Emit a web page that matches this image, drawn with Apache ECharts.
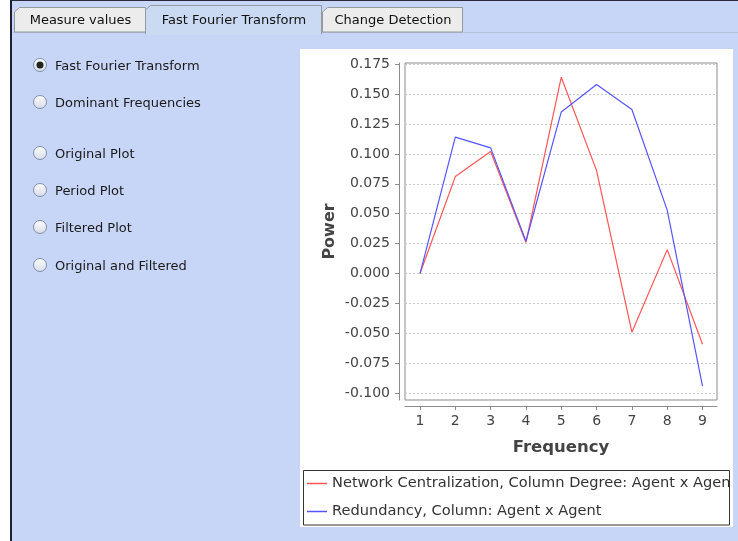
<!DOCTYPE html>
<html>
<head>
<meta charset="utf-8">
<script src="https://cdn.jsdelivr.net/npm/echarts@6/dist/echarts.min.js"></script>
<style>
html,body{margin:0;padding:0;background:#fff;}
#chart{width:738px;height:541px;}
</style>
</head>
<body>
<div id="chart"></div>
<script>
// ---- data ----
const frequencies = [1, 2, 3, 4, 5, 6, 7, 8, 9];
const centralization = [0.000, 0.081, 0.102, 0.026, 0.164, 0.086, -0.049, 0.020, -0.059];
const redundancy = [0.000, 0.114, 0.105, 0.027, 0.135, 0.158, 0.137, 0.053, -0.094];
const yTicks = [-0.100, -0.075, -0.050, -0.025, 0.000, 0.025, 0.050, 0.075, 0.100, 0.125, 0.150, 0.175];
const xTicks = [1, 2, 3, 4, 5, 6, 7, 8, 9];
const seriesNames = ['Network Centralization, Column Degree: Agent x Agent', 'Redundancy, Column: Agent x Agent'];
const tabNames = ['Measure values', 'Fast Fourier Transform', 'Change Detection'];
const radioNames = ['Fast Fourier Transform', 'Dominant Frequencies', 'Original Plot', 'Period Plot', 'Filtered Plot', 'Original and Filtered'];

const UI_FONT = '"DejaVu Sans", sans-serif';
const BG_BLUE = '#c7d6f7';

const chart = echarts.init(document.getElementById('chart'), null, {renderer: 'canvas'});

const graphics = [];
// background panel
graphics.push({type: 'rect', z: -10, shape: {x: 11, y: 1, width: 727, height: 540}, style: {fill: BG_BLUE}});
graphics.push({type: 'line', z: -9, shape: {x1: 10, y1: 0.5, x2: 738, y2: 0.5}, style: {stroke: '#2a2a3a', lineWidth: 1}});
graphics.push({type: 'line', z: -9, shape: {x1: 11, y1: 0, x2: 11, y2: 541}, style: {stroke: '#1c2030', lineWidth: 2}});
graphics.push({type: 'line', z: -9, shape: {x1: 12, y1: 32.5, x2: 738, y2: 32.5}, style: {stroke: '#b4c2dc', lineWidth: 1}});
// tabs
const tabs = [
  {x0: 14, x1: 145, top: 7, fill: '#ececec', sel: false},
  {x0: 145, x1: 321, top: 5, fill: '#cbdaf3', sel: true},
  {x0: 322, x1: 462, top: 7, fill: '#ececec', sel: false}
];
tabs.forEach((t, i) => {
  const bottom = t.sel ? 34 : 32;
  graphics.push({type: 'polygon', z: -8, shape: {points: [[t.x0 + 0.5, bottom], [t.x0 + 0.5, t.top + 5], [t.x0 + 5.5, t.top + 0.5], [t.x1 + 0.5, t.top + 0.5], [t.x1 + 0.5, bottom]]},
    style: {fill: t.fill, stroke: '#919b9c', lineWidth: 1}});
  if (t.sel) {
    graphics.push({type: 'rect', z: -7, shape: {x: t.x0 + 1, y: 31, width: t.x1 - t.x0 - 1, height: 4}, style: {fill: t.fill}});
  }
  graphics.push({type: 'text', z: -6, x: (t.x0 + t.x1) / 2 + 1, y: 21,
    style: {text: tabNames[i], font: '13px ' + UI_FONT, fill: '#111', align: 'center', verticalAlign: 'middle'}});
});
// radio buttons
const radioY = [65, 102, 153, 190, 227, 265];
radioNames.forEach((name, i) => {
  const y = radioY[i];
  graphics.push({type: 'circle', z: -6, shape: {cx: 40, cy: y, r: 6.5},
    style: {fill: new echarts.graphic.LinearGradient(0, 0, 0, 1, [{offset: 0, color: '#ffffff'}, {offset: 1, color: '#d6dbe6'}]), stroke: '#7f8fa8', lineWidth: 1}});
  if (i === 0) {
    graphics.push({type: 'circle', z: -5, shape: {cx: 40, cy: y, r: 3.5}, style: {fill: '#222'}});
  }
  graphics.push({type: 'text', z: -5, x: 55, y: y + 1.5,
    style: {text: name, font: '13px ' + UI_FONT, fill: '#1a1a1a', align: 'left', verticalAlign: 'middle'}});
});
// chart panel (white)
graphics.push({type: 'rect', z: -6, shape: {x: 300, y: 49, width: 433, height: 478}, style: {fill: '#ffffff'}});
// legend frame
graphics.push({type: 'rect', z: -5, shape: {x: 303.5, y: 470.5, width: 426, height: 54.5}, style: {fill: '#ffffff', stroke: '#333', lineWidth: 1}});

const toPairs = (vals) => frequencies.map((f, i) => [f, vals[i]]);

const option = {
  animation: false,
  backgroundColor: '#ffffff',
  graphic: {elements: graphics},
  grid: {left: 405, top: 63, right: 21, bottom: 141, show: true, backgroundColor: '#ffffff', borderColor: '#8c8c8c', borderWidth: 1, containLabel: false},
  legend: {
    orient: 'vertical', left: 307, top: 476, padding: 0, itemGap: 13,
    itemWidth: 20, itemHeight: 1.5, icon: 'rect',
    data: seriesNames,
    textStyle: {fontFamily: UI_FONT, fontSize: 14.6, color: '#333', width: 400, overflow: 'truncate', ellipsis: ''}
  },
  xAxis: {
    type: 'value', min: 0.575, max: 9.41, offset: 6,
    name: 'Frequency', nameLocation: 'middle', nameGap: 33,
    nameTextStyle: {fontFamily: UI_FONT, fontSize: 16.5, fontWeight: 'bold', color: '#444'},
    axisLine: {show: true, onZero: false, lineStyle: {color: '#8c8c8c', width: 1}},
    axisTick: {show: true, length: 4, lineStyle: {color: '#8c8c8c'}, customValues: xTicks},
    axisLabel: {customValues: xTicks, margin: 8, fontFamily: UI_FONT, fontSize: 14, color: '#444', formatter: v => String(v)},
    splitLine: {show: false}
  },
  yAxis: {
    type: 'value', min: -0.1056, max: 0.1759, offset: 6,
    name: 'Power', nameLocation: 'middle', nameGap: 61, nameRotate: 90,
    nameTextStyle: {fontFamily: UI_FONT, fontSize: 16, fontWeight: 'bold', color: '#444'},
    axisLine: {show: true, onZero: false, lineStyle: {color: '#8c8c8c', width: 1}},
    axisTick: {show: true, length: 4, lineStyle: {color: '#8c8c8c'}, customValues: yTicks},
    axisLabel: {customValues: yTicks, margin: 9, fontFamily: UI_FONT, fontSize: 14, color: '#444', formatter: v => Number(v).toFixed(3)},
    splitLine: {show: true, lineStyle: {color: '#c8c8c8', type: [2, 2], width: 1}}
  },
  series: [
    {name: seriesNames[0], type: 'line', data: toPairs(centralization), showSymbol: false, symbol: 'none',
      lineStyle: {color: '#ff5555', width: 1.2}, itemStyle: {color: '#ff5555'}},
    {name: seriesNames[1], type: 'line', data: toPairs(redundancy), showSymbol: false, symbol: 'none',
      lineStyle: {color: '#5555ff', width: 1.2}, itemStyle: {color: '#5555ff'}}
  ]
};
chart.setOption(option);
</script>
</body>
</html>
